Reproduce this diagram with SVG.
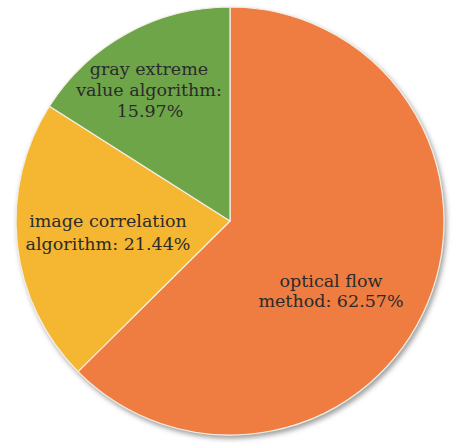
<svg xmlns="http://www.w3.org/2000/svg" width="452" height="443" viewBox="0 0 452 443">
  <defs>
    <filter id="sh" x="-10%" y="-10%" width="125%" height="125%">
      <feDropShadow dx="2" dy="3" stdDeviation="2.5" flood-color="#888" flood-opacity="0.8"/>
    </filter>
  </defs>
  <style>
    .slice { stroke: #f4efe6; stroke-width: 1.2; stroke-linejoin: round; }
    .lbl { font-family: "DejaVu Serif", "Liberation Serif", serif; font-size: 17.5px; fill: #2b2b2b; text-anchor: middle; }
  </style>
  <rect width="452" height="443" fill="#ffffff"/>
  <g id="pie" filter="url(#sh)">
    <g id="optical-flow">
      <path class="slice" fill="#ef7b41" d="M230,221 L230,7 A214,214 0 1,1 78.02,371.66 Z"/>
    </g>
    <g id="image-correlation">
      <path class="slice" fill="#f5b731" d="M230,221 L78.02,371.66 A214,214 0 0,1 49.4,106.2 Z"/>
    </g>
    <g id="gray-extreme">
      <path class="slice" fill="#6ea54a" d="M230,221 L49.4,106.2 A214,214 0 0,1 230,7 Z"/>
    </g>
  </g>
  <g id="labels">
    <text class="lbl" x="149" y="75">gray extreme</text>
    <text class="lbl" x="149" y="96">value algorithm:</text>
    <text class="lbl" x="150" y="117">15.97%</text>
    <text class="lbl" x="108" y="227">image correlation</text>
    <text class="lbl" x="108" y="250">algorithm: 21.44%</text>
    <text class="lbl" x="331" y="287">optical flow</text>
    <text class="lbl" x="331" y="307">method: 62.57%</text>
  </g>
  <g id="connectors"/>
</svg>
